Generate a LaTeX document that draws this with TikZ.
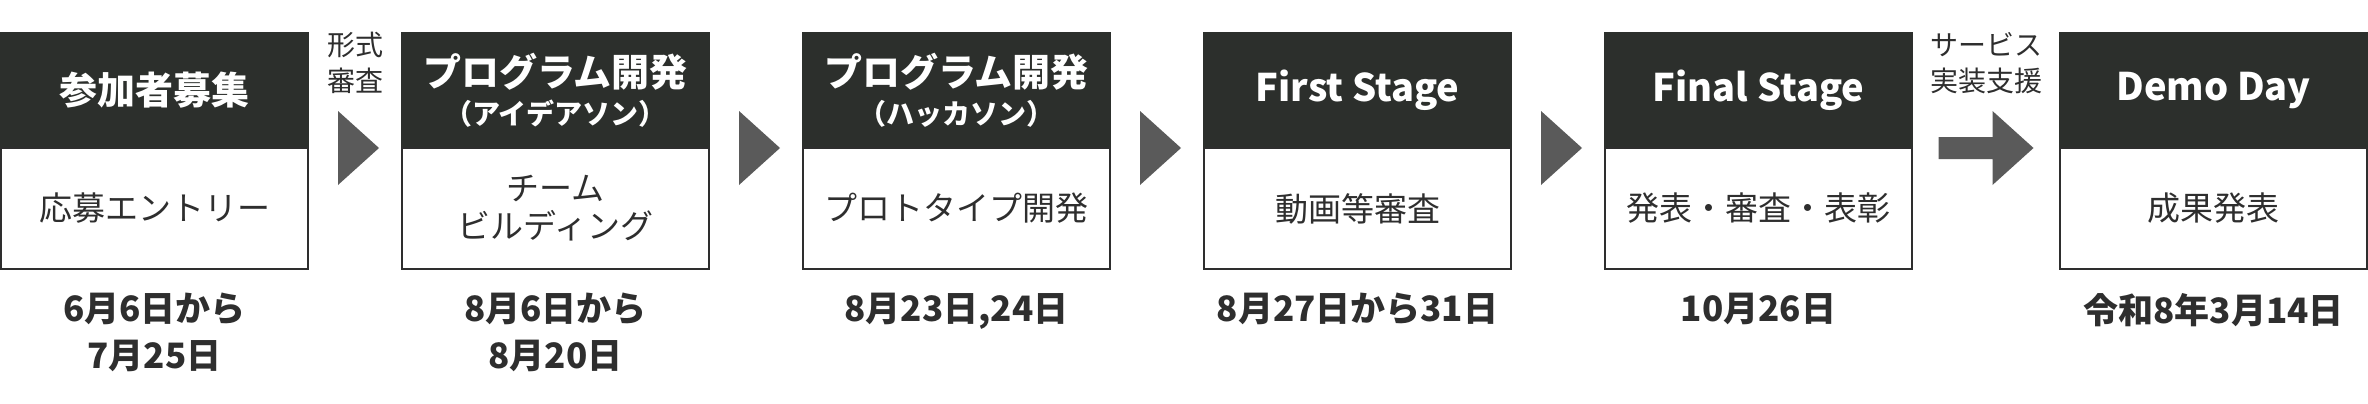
\documentclass[tikz,border=0pt]{standalone}
\usepackage{fontspec}
\setmainfont{Noto Sans CJK JP}
\usetikzlibrary{calc}
\definecolor{hdark}{HTML}{2C2F2C}
\definecolor{afill}{HTML}{5A5A5A}
\definecolor{tdark}{HTML}{2E2E2E}
\begin{document}
\begin{tikzpicture}[x=1pt,y=-1pt,
  hd/.style={rectangle, fill=hdark, draw=hdark, line width=2pt, outer sep=0pt, inner sep=0pt,
    minimum width=307pt, minimum height=115pt, anchor=north west, text=white, align=center,
    font=\bfseries\fontsize{38}{40}\selectfont},
  bd/.style={rectangle, draw=tdark, line width=2pt, outer sep=0pt, inner sep=0pt, fill=white,
    minimum width=307pt, minimum height=121pt, anchor=north, text=tdark, align=center,
    font=\fontsize{33}{38}\selectfont},
  dt/.style={anchor=north, inner sep=0pt, text=tdark, align=center,
    font=\bfseries\fontsize{35}{47}\selectfont},
  lbl/.style={anchor=north, inner sep=0pt, text=tdark, align=center,
    font=\fontsize{28}{36}\selectfont},
  tri/.style={fill=afill}
]
\useasboundingbox (0,0) rectangle (2368,404);

% headers
\node[hd] (h1) at (1,33) {\raisebox{-2pt}{参加者募集}};
\node[hd] (h2) at (402,33) {プログラム開発\\[-2pt]{\fontsize{28}{40}\selectfont （アイデアソン）}};
\node[hd] (h3) at (803,33) {プログラム開発\\[-2pt]{\fontsize{28}{40}\selectfont （ハッカソン）}};
\node[hd] (h4) at (1204,33) {\raisebox{-2pt}{First Stage}};
\node[hd] (h5) at (1605,33) {\raisebox{-2pt}{Final Stage}};
\node[hd] (h6) at (2060,33) {\raisebox{-2pt}{Demo Day}};

% bodies
\node[bd] (b1) at (h1.south) {応募エントリー};
\node[bd] (b2) at (h2.south) {チーム\\ビルディング};
\node[bd] (b3) at (h3.south) {プロトタイプ開発};
\node[bd] (b4) at (h4.south) {動画等審査};
\node[bd] (b5) at (h5.south) {発表・審査・表彰};
\node[bd] (b6) at (h6.south) {成果発表};

% dates
\node[dt] (d1) at ($(b1.south)+(0,24)$) {6月6日から\\7月25日};
\node[dt] (d2) at ($(b2.south)+(0,24)$) {8月6日から\\8月20日};
\node[dt] (d3) at ($(b3.south)+(0,24)$) {8月23日,24日};
\node[dt] (d4) at ($(b4.south)+(0,24)$) {8月27日から31日};
\node[dt] (d5) at ($(b5.south)+(0,24)$) {10月26日};
\node[dt] (d6) at ($(b6.south)+(0,24)$) {令和8年3月14日};

% arrow positions
\coordinate (m1) at ($(b1.north east)!0.5!(b2.north west)$);
\coordinate (m2) at ($(b2.north east)!0.5!(b3.north west)$);
\coordinate (m3) at ($(b3.north east)!0.5!(b4.north west)$);
\coordinate (m4) at ($(b4.north east)!0.5!(b5.north west)$);
\coordinate (m5) at ($(b5.north east)!0.5!(b6.north west)$);

\foreach \m in {m1,m2,m3,m4}{
  \fill[tri] ($(\m)+(-17,-37)$) -- ($(\m)+(24,0)$) -- ($(\m)+(-17,37)$) -- cycle;
}
\fill[tri] ($(m5)+(-47.5,-11)$) -- ($(m5)+(6.5,-11)$) -- ($(m5)+(6.5,-37)$) -- ($(m5)+(47.5,0)$)
  -- ($(m5)+(6.5,37)$) -- ($(m5)+(6.5,11)$) -- ($(m5)+(-47.5,11)$) -- cycle;

% labels
\node[lbl] (l1) at ($(h1.north east)!0.5!(h2.north west)+(0,-1)$) {形式\\審査};
\node[lbl] (l5) at ($(h5.north east)!0.5!(h6.north west)+(0,-1)$) {サービス\\実装支援};
\end{tikzpicture}
\end{document}
